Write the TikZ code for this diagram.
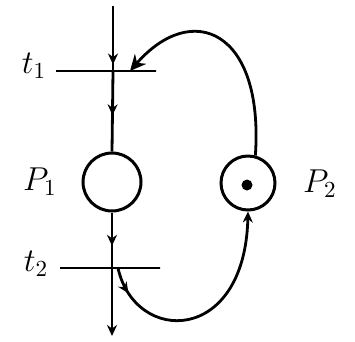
\documentclass[tikz,border=0pt]{standalone}
\usetikzlibrary{arrows.meta, decorations.markings, calc}

\begin{document}
\begin{tikzpicture}[
    x=1pt, y=-1pt,
    place/.style={circle, draw, line width=3pt, minimum width=52pt, inner sep=0pt},
    trans/.style={draw, line width=2.8pt, minimum width=100pt, minimum height=0pt, inner sep=0pt},
    token/.style={circle, fill, minimum size=11pt, inner sep=0pt},
    lbl/.style={font=\Large, scale=2.3},
    arc/.style={line width=2.8pt},
    midarrow/.style={postaction={decorate, decoration={markings,
        mark=at position #1 with {\arrow{Stealth[length=11pt, width=10pt]}}}}},
]
    \useasboundingbox (0,0) rectangle (355,341);

    % Places and transitions
    \node[trans] (t1) at (106,71) {};
    \node[trans] (t2) at (110,268) {};
    \node[place, minimum height=50pt, minimum width=58pt] (p1) at (112,182) {};
    \node[place, minimum height=54pt] (p2) at (248,183) {};
    \node[token] (tok) at (247,185) {};

    % Free ends of the main line
    \coordinate (in) at (113,6);
    \coordinate (out) at (112,336);

    % Labels
    \node[lbl] (lt1) at (34,66) {$t_1$};
    \node[lbl] (lt2) at (36,264) {$t_2$};
    \node[lbl] (lp1) at (40,182) {$P_1$};
    \node[lbl] (lp2) at (320,184) {$P_2$};

    % Arcs along the main line
    \draw[arc, midarrow=0.9] (in) -- (in |- t1.center);
    \draw[arc, midarrow=0.55] (in |- t1.center) -- (p1.north);
    \draw[arc, midarrow=0.6] (p1.south) -- (p1.south |- t2.center);
    \draw[arc, -{Stealth[length=11pt, width=10pt]}] (p1.south |- t2.center) -- (out);

    % Loop through P2
    \draw[arc, -{Stealth[length=16pt, width=15pt]}] (p2.75)
        .. controls (264,30) and (192,0) .. ([xshift=24pt]t1.center);
    \draw[arc, midarrow=0.12, -{Stealth[length=11pt, width=10pt]}] ([xshift=8pt]t2.center)
        .. controls (135,345) and (245,345) .. (p2.south);
\end{tikzpicture}
\end{document}
